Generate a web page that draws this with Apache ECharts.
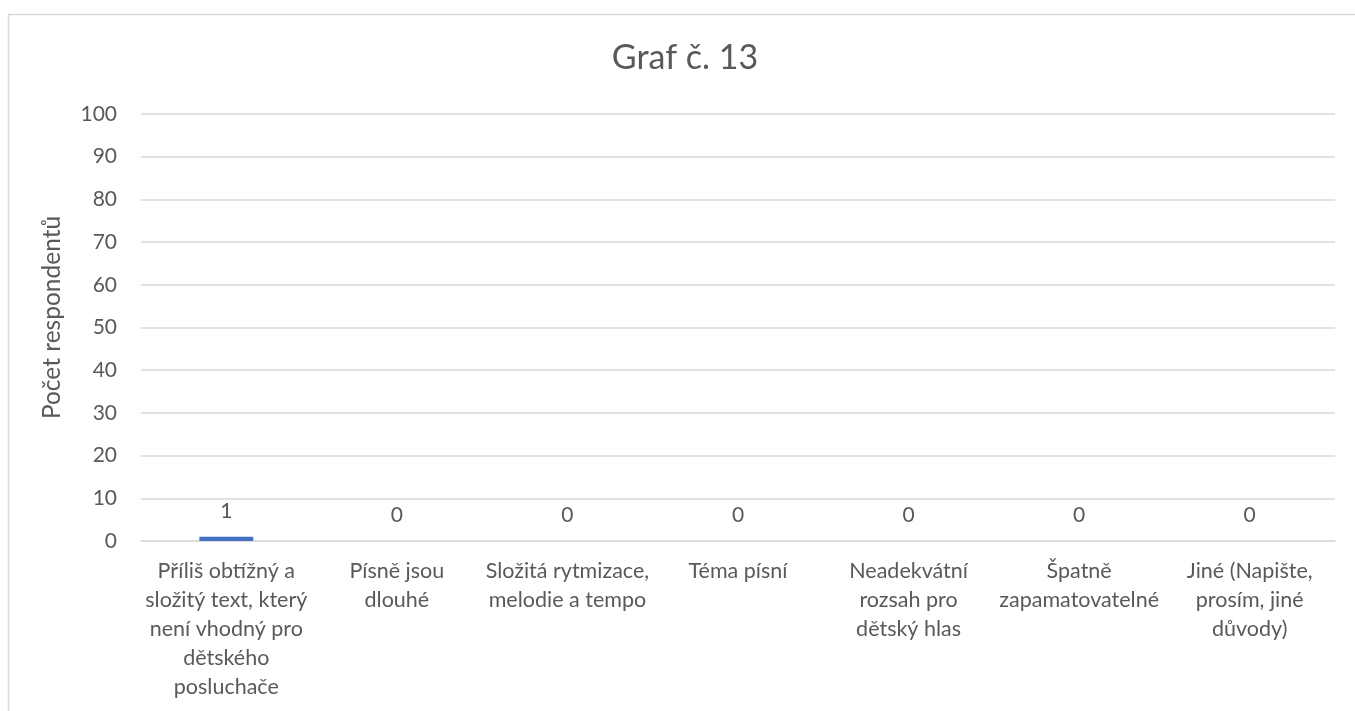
<!DOCTYPE html>
<html>
<head>
<meta charset="utf-8">
<script src="https://cdn.jsdelivr.net/npm/echarts@6/dist/echarts.min.js"></script>
<style>
html,body{margin:0;padding:0;background:#fff;}
#chart{width:1355px;height:711px;}
</style>
</head>
<body>
<div id="chart"></div>
<script>
const titleText = 'Graf č. 13';
const yAxisName = 'Počet respondentů';
const categories = [
  'Příliš obtížný a\nsložitý text, který\nnení vhodný pro\ndětského\nposluchače',
  'Písně jsou\ndlouhé',
  'Složitá rytmizace,\nmelodie a tempo',
  'Téma písní',
  'Neadekvátní\nrozsah pro\ndětský hlas',
  'Špatně\nzapamatovatelné',
  'Jiné (Napište,\nprosím, jiné\ndůvody)'
];
const values = [1, 0, 0, 0, 0, 0, 0];
const yMin = 0, yMax = 100, yStep = 10;

const FONT = 'Lato';
const TXT = '#595959';
const GRID = '#d9d9d9';

const chart = echarts.init(document.getElementById('chart'), null, {renderer: 'canvas'});
chart.setOption({
  backgroundColor: '#fff',
  animation: false,
  title: {
    text: titleText,
    left: 680,
    top: 36,
    textAlign: 'center',
    textStyle: {fontFamily: FONT, fontSize: 34, fontWeight: 'normal', color: TXT}
  },
  graphic: [{
    type: 'rect',
    shape: {x: 8.5, y: 14.5, width: 1360, height: 800},
    style: {fill: 'none', stroke: GRID, lineWidth: 1.5},
    silent: true
  }],
  grid: {left: 141, right: 20, top: 114, bottom: 170, containLabel: false},
  xAxis: {
    type: 'category',
    data: categories,
    axisLine: {show: true, lineStyle: {color: GRID, width: 1.5}},
    axisTick: {show: false},
    axisLabel: {
      interval: 0, margin: 16, color: TXT, fontFamily: FONT, fontSize: 21.5,
      lineHeight: 29, align: 'center'
    }
  },
  yAxis: {
    type: 'value',
    min: yMin, max: yMax, interval: yStep,
    name: yAxisName,
    nameLocation: 'middle',
    nameRotate: 90,
    nameGap: 76,
    nameTextStyle: {fontFamily: FONT, fontSize: 24.5, color: TXT, padding: [0, 0, 0, 20]},
    axisLine: {show: false},
    axisTick: {show: false},
    axisLabel: {margin: 24, color: TXT, fontFamily: FONT, fontSize: 21},
    splitLine: {lineStyle: {color: GRID, width: 1.5}}
  },
  series: [{
    type: 'bar',
    data: values,
    barWidth: '31.6%',
    itemStyle: {color: '#4472c4'},
    label: {
      show: true, position: 'top', distance: 15,
      color: TXT, fontFamily: FONT, fontSize: 21
    }
  }]
});
</script>
</body>
</html>
